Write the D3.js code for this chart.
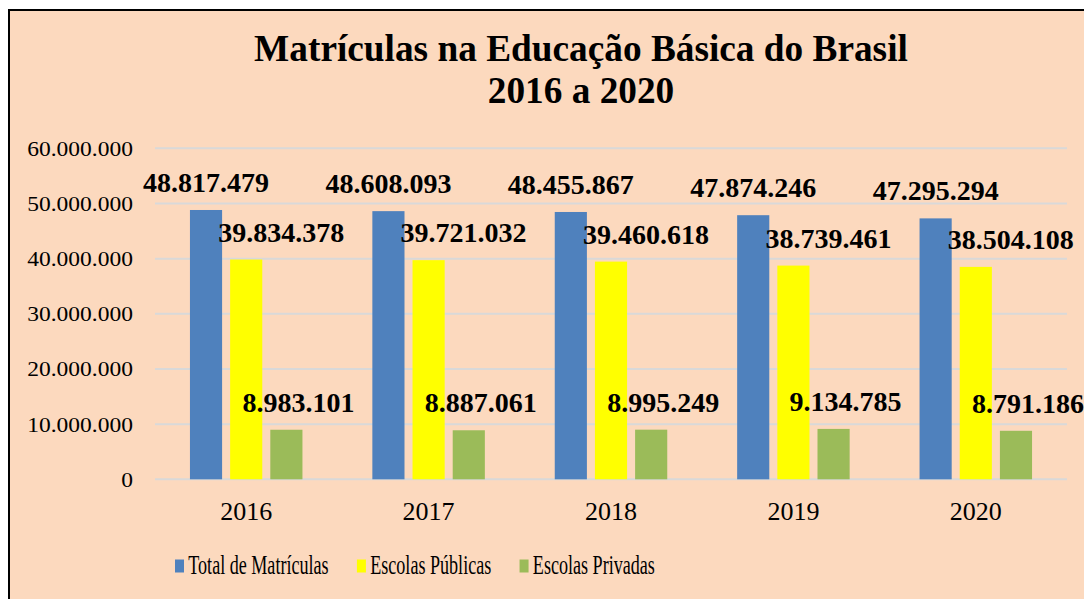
<!DOCTYPE html>
<html>
<head>
<meta charset="utf-8">
<script src="https://cdn.jsdelivr.net/npm/d3@7"></script>
<style>
  html, body { margin: 0; padding: 0; background: #ffffff; }
  svg { display: block; }
</style>
</head>
<body>
<svg id="chart" width="1084" height="599"></svg>
<script>
const years = ["2016", "2017", "2018", "2019", "2020"];
const seriesNames = ["Total de Matrículas", "Escolas Públicas", "Escolas Privadas"];
const totalMatriculas = [48817479, 48608093, 48455867, 47874246, 47295294];
const escolasPublicas = [39834378, 39721032, 39460618, 38739461, 38504108];
const escolasPrivadas = [8983101, 8887061, 8995249, 9134785, 8791186];
const yTicks = [0, 10000000, 20000000, 30000000, 40000000, 50000000, 60000000];
const titleLines = ["Matrículas na Educação Básica do Brasil", "2016 a 2020"];

const colors = ["#4F81BD", "#FFFF00", "#9BBB59"];
const labelDx = [0, 35, 12];
const seriesValues = [totalMatriculas, escolasPublicas, escolasPrivadas];

const fmt = v => d3.format(",")(v).replace(/,/g, ".");

const svg = d3.select("#chart");
const bg = "#FCD9BE";

svg.append("rect").attr("x", 9).attr("y", 10).attr("width", 1090).attr("height", 600)
  .attr("fill", bg).attr("stroke", "#000").attr("stroke-width", 2);

const serif = "'Liberation Serif', 'Times New Roman', serif";

// Title
svg.append("g").selectAll("text").data(titleLines).join("text")
  .attr("x", 581).attr("y", (d, i) => 61 + i * 42)
  .attr("text-anchor", "middle")
  .attr("font-family", serif).attr("font-weight", "bold").attr("font-size", 37.3)
  .attr("fill", "#000").text(d => d);

const x0 = d3.scaleBand().domain(years).range([155, 1067]).paddingInner(0).paddingOuter(0);
const x1 = d3.scaleBand().domain(d3.range(3)).range([0, x0.bandwidth()]).paddingInner(0.2).paddingOuter(0.87);
const y = d3.scaleLinear().domain([0, 60000000]).range([479.3, 148.3]);

// Gridlines
svg.append("g").selectAll("line").data(yTicks).join("line")
  .attr("x1", 155).attr("x2", 1067)
  .attr("y1", d => y(d)).attr("y2", d => y(d))
  .attr("stroke", "#D9D9D9").attr("stroke-width", 2);

// Y axis
const yAxis = d3.axisLeft(y).tickValues(yTicks).tickFormat(fmt).tickSize(0).tickPadding(0);
const yg = svg.append("g").attr("transform", "translate(133,0)").call(yAxis);
yg.select(".domain").remove();
yg.attr("font-family", serif);
yg.selectAll("text").attr("font-family", serif).attr("font-size", 21).attr("fill", "#000")
  .attr("dy", "0.33em").attr("transform", "scale(1.12,1)");

// X axis
const xAxis = d3.axisBottom(x0).tickSize(0).tickPadding(0);
const xg = svg.append("g").attr("transform", "translate(0,502)").call(xAxis);
xg.select(".domain").remove();
xg.attr("font-family", serif);
xg.selectAll("text").attr("font-family", serif).attr("font-size", 26).attr("fill", "#000")
  .attr("dy", "0.71em");

// Bars
const groups = svg.append("g").selectAll("g").data(years).join("g")
  .attr("transform", d => `translate(${x0(d)},0)`);

groups.selectAll("rect").data((d, i) => seriesValues.map((s, k) => ({k, v: s[i]}))).join("rect")
  .attr("x", d => x1(d.k)).attr("width", x1.bandwidth())
  .attr("y", d => y(d.v)).attr("height", d => y(0) - y(d.v))
  .attr("fill", d => colors[d.k]);

// Labels
groups.selectAll("text.lbl").data((d, i) => seriesValues.map((s, k) => ({k, v: s[i]}))).join("text")
  .attr("class", "lbl")
  .attr("x", d => x1(d.k) + x1.bandwidth() / 2 + labelDx[d.k])
  .attr("y", d => y(d.v) - 18)
  .attr("text-anchor", "middle")
  .attr("font-family", serif).attr("font-weight", "bold").attr("font-size", 28)
  .attr("fill", "#000").text(d => fmt(d.v));

// Legend (condensed)
const sx = 0.67;
const legend = svg.append("g");
let lx = 175;
seriesNames.forEach((name, k) => {
  legend.append("rect").attr("x", lx).attr("y", 559.5).attr("width", 9).attr("height", 13)
    .attr("fill", colors[k]);
  const t = legend.append("text")
    .attr("transform", `translate(${lx + 13.3},574) scale(${sx},1)`)
    .attr("font-family", serif).attr("font-size", 27).attr("fill", "#000").text(name);
  const w = t.node().getComputedTextLength() * sx;
  lx = lx + 13.3 + w + 28.3;
});
</script>
</body>
</html>
